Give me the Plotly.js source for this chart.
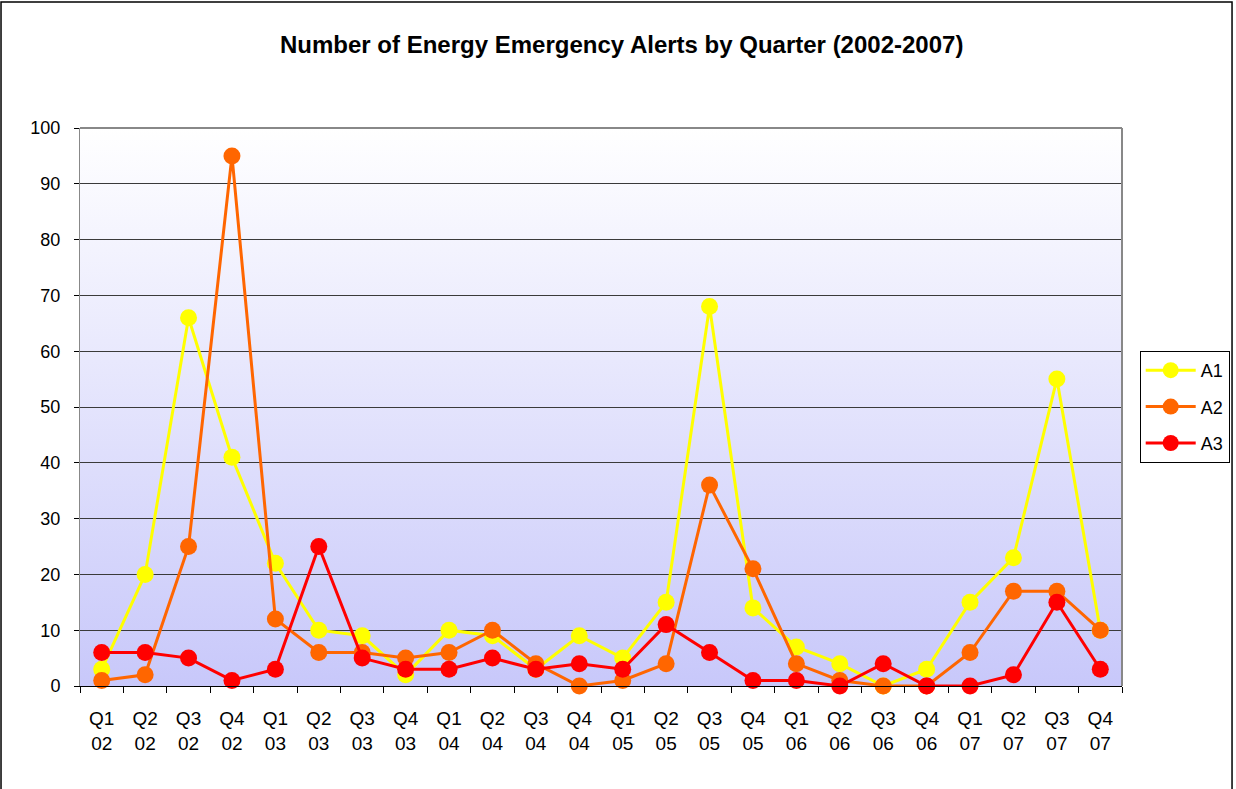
<!DOCTYPE html>
<html>
<head>
<meta charset="utf-8">
<script src="https://cdn.plot.ly/plotly-3.0.1.min.js"></script>
<style>
  html, body { margin: 0; padding: 0; background: #fff; }
  #chart { width: 1236px; height: 789px; }
</style>
</head>
<body>
<div id="chart"></div>
<script>
// quarter labels (2002-2007)
const quarters = [
  'Q1<br>02', 'Q2<br>02', 'Q3<br>02', 'Q4<br>02',
  'Q1<br>03', 'Q2<br>03', 'Q3<br>03', 'Q4<br>03',
  'Q1<br>04', 'Q2<br>04', 'Q3<br>04', 'Q4<br>04',
  'Q1<br>05', 'Q2<br>05', 'Q3<br>05', 'Q4<br>05',
  'Q1<br>06', 'Q2<br>06', 'Q3<br>06', 'Q4<br>06',
  'Q1<br>07', 'Q2<br>07', 'Q3<br>07', 'Q4<br>07'
];

// alerts per level
const a1 = [3, 20, 66, 41, 22, 10, 9, 2, 10, 9, 3, 9, 5, 15, 68, 14, 7, 4, 0, 3, 15, 23, 55, 10];
const a2 = [1, 2, 25, 95, 12, 6, 6, 5, 6, 10, 4, 0, 1, 4, 36, 21, 4, 1, 0, 0, 6, 17, 17, 10];
const a3 = [6, 6, 5, 1, 3, 25, 5, 3, 3, 5, 3, 4, 3, 11, 6, 1, 1, 0, 4, 0, 0, 2, 15, 3];

const seriesNames = ['A1', 'A2', 'A3'];
const seriesColors = ['#FFFF00', '#FF6600', '#FF0000'];

function mkTrace(name, vals, color) {
  return {
    x: quarters,
    y: vals,
    name: name,
    legendgroup: name, // own group each, so tracegroupgap spaces the legend rows
    type: 'scatter',
    mode: 'lines+markers',
    line: { color: color, width: 3 },
    marker: { color: color, size: 17 },
    cliponaxis: false
  };
}

const traces = [
  mkTrace(seriesNames[0], a1, seriesColors[0]),
  mkTrace(seriesNames[1], a2, seriesColors[1]),
  mkTrace(seriesNames[2], a3, seriesColors[2])
];

// vertical white -> lavender gradient behind the plot area
const grad = 'data:image/svg+xml;utf8,' + encodeURIComponent(
  '<svg xmlns="http://www.w3.org/2000/svg" width="100" height="100" preserveAspectRatio="none">' +
  '<defs><linearGradient id="g" x1="0" y1="0" x2="0" y2="1">' +
  '<stop offset="0" stop-color="#ffffff"/><stop offset="1" stop-color="#c8c8fa"/>' +
  '</linearGradient></defs><rect width="100" height="100" fill="url(#g)"/></svg>');

const font = 'Liberation Sans, Arial, sans-serif';

const layout = {
  width: 1236,
  height: 789,
  margin: { l: 80, r: 114, t: 128, b: 103, autoexpand: false },
  paper_bgcolor: '#ffffff',
  plot_bgcolor: 'rgba(0,0,0,0)',
  font: { family: font, size: 18, color: '#000' },
  title: {
    text: '<b>Number of Energy Emergency Alerts by Quarter (2002-2007)</b>',
    font: { family: font, size: 24, color: '#000' },
    x: 0.503, xanchor: 'center',
    y: 0.943, yanchor: 'middle'
  },
  xaxis: {
    type: 'category',
    range: [-0.5, 23.5],
    tickson: 'boundaries',
    ticks: 'outside',
    ticklen: 6,
    tickcolor: '#000',
    ticklabelstandoff: 15,
    showgrid: false,
    showline: true,
    linecolor: '#000',
    linewidth: 1,
    tickfont: { size: 19 },
    fixedrange: true
  },
  yaxis: {
    range: [0, 100],
    dtick: 10,
    ticks: 'outside',
    ticklen: 5,
    tickcolor: '#000',
    ticklabelstandoff: 10,
    showline: true,
    linecolor: '#888',
    gridcolor: '#3a3a3a',
    gridwidth: 1,
    zeroline: false,
    tickfont: { size: 18 },
    fixedrange: true
  },
  legend: {
    x: 1.017, xanchor: 'left',
    y: 0.5, yanchor: 'middle',
    bordercolor: '#000',
    borderwidth: 1,
    bgcolor: '#fff',
    font: { size: 18 },
    traceorder: 'grouped',
    tracegroupgap: 10,
    itemwidth: 50
  },
  images: [{
    source: grad,
    xref: 'paper', yref: 'paper',
    x: 0, y: 1, sizex: 1, sizey: 1,
    sizing: 'stretch',
    layer: 'below'
  }],
  shapes: [
    // right and top frame of plot area
    { type: 'line', xref: 'paper', yref: 'paper', x0: 1, x1: 1, y0: 0, y1: 1,
      line: { color: '#888', width: 2 } },
    { type: 'line', xref: 'paper', yref: 'paper', x0: 0, x1: 1, y0: 1, y1: 1,
      line: { color: '#888', width: 2 } },
    // outer chart border
    { type: 'rect', xref: 'paper', yref: 'paper',
      x0: -0.0758, x1: 1.1056, y0: -0.3, y1: 1.2258,
      line: { color: '#000', width: 1.5 }, fillcolor: 'rgba(0,0,0,0)' }
  ],
  showlegend: true
};

Plotly.newPlot('chart', traces, layout, { displayModeBar: false, staticPlot: true });
</script>
</body>
</html>
